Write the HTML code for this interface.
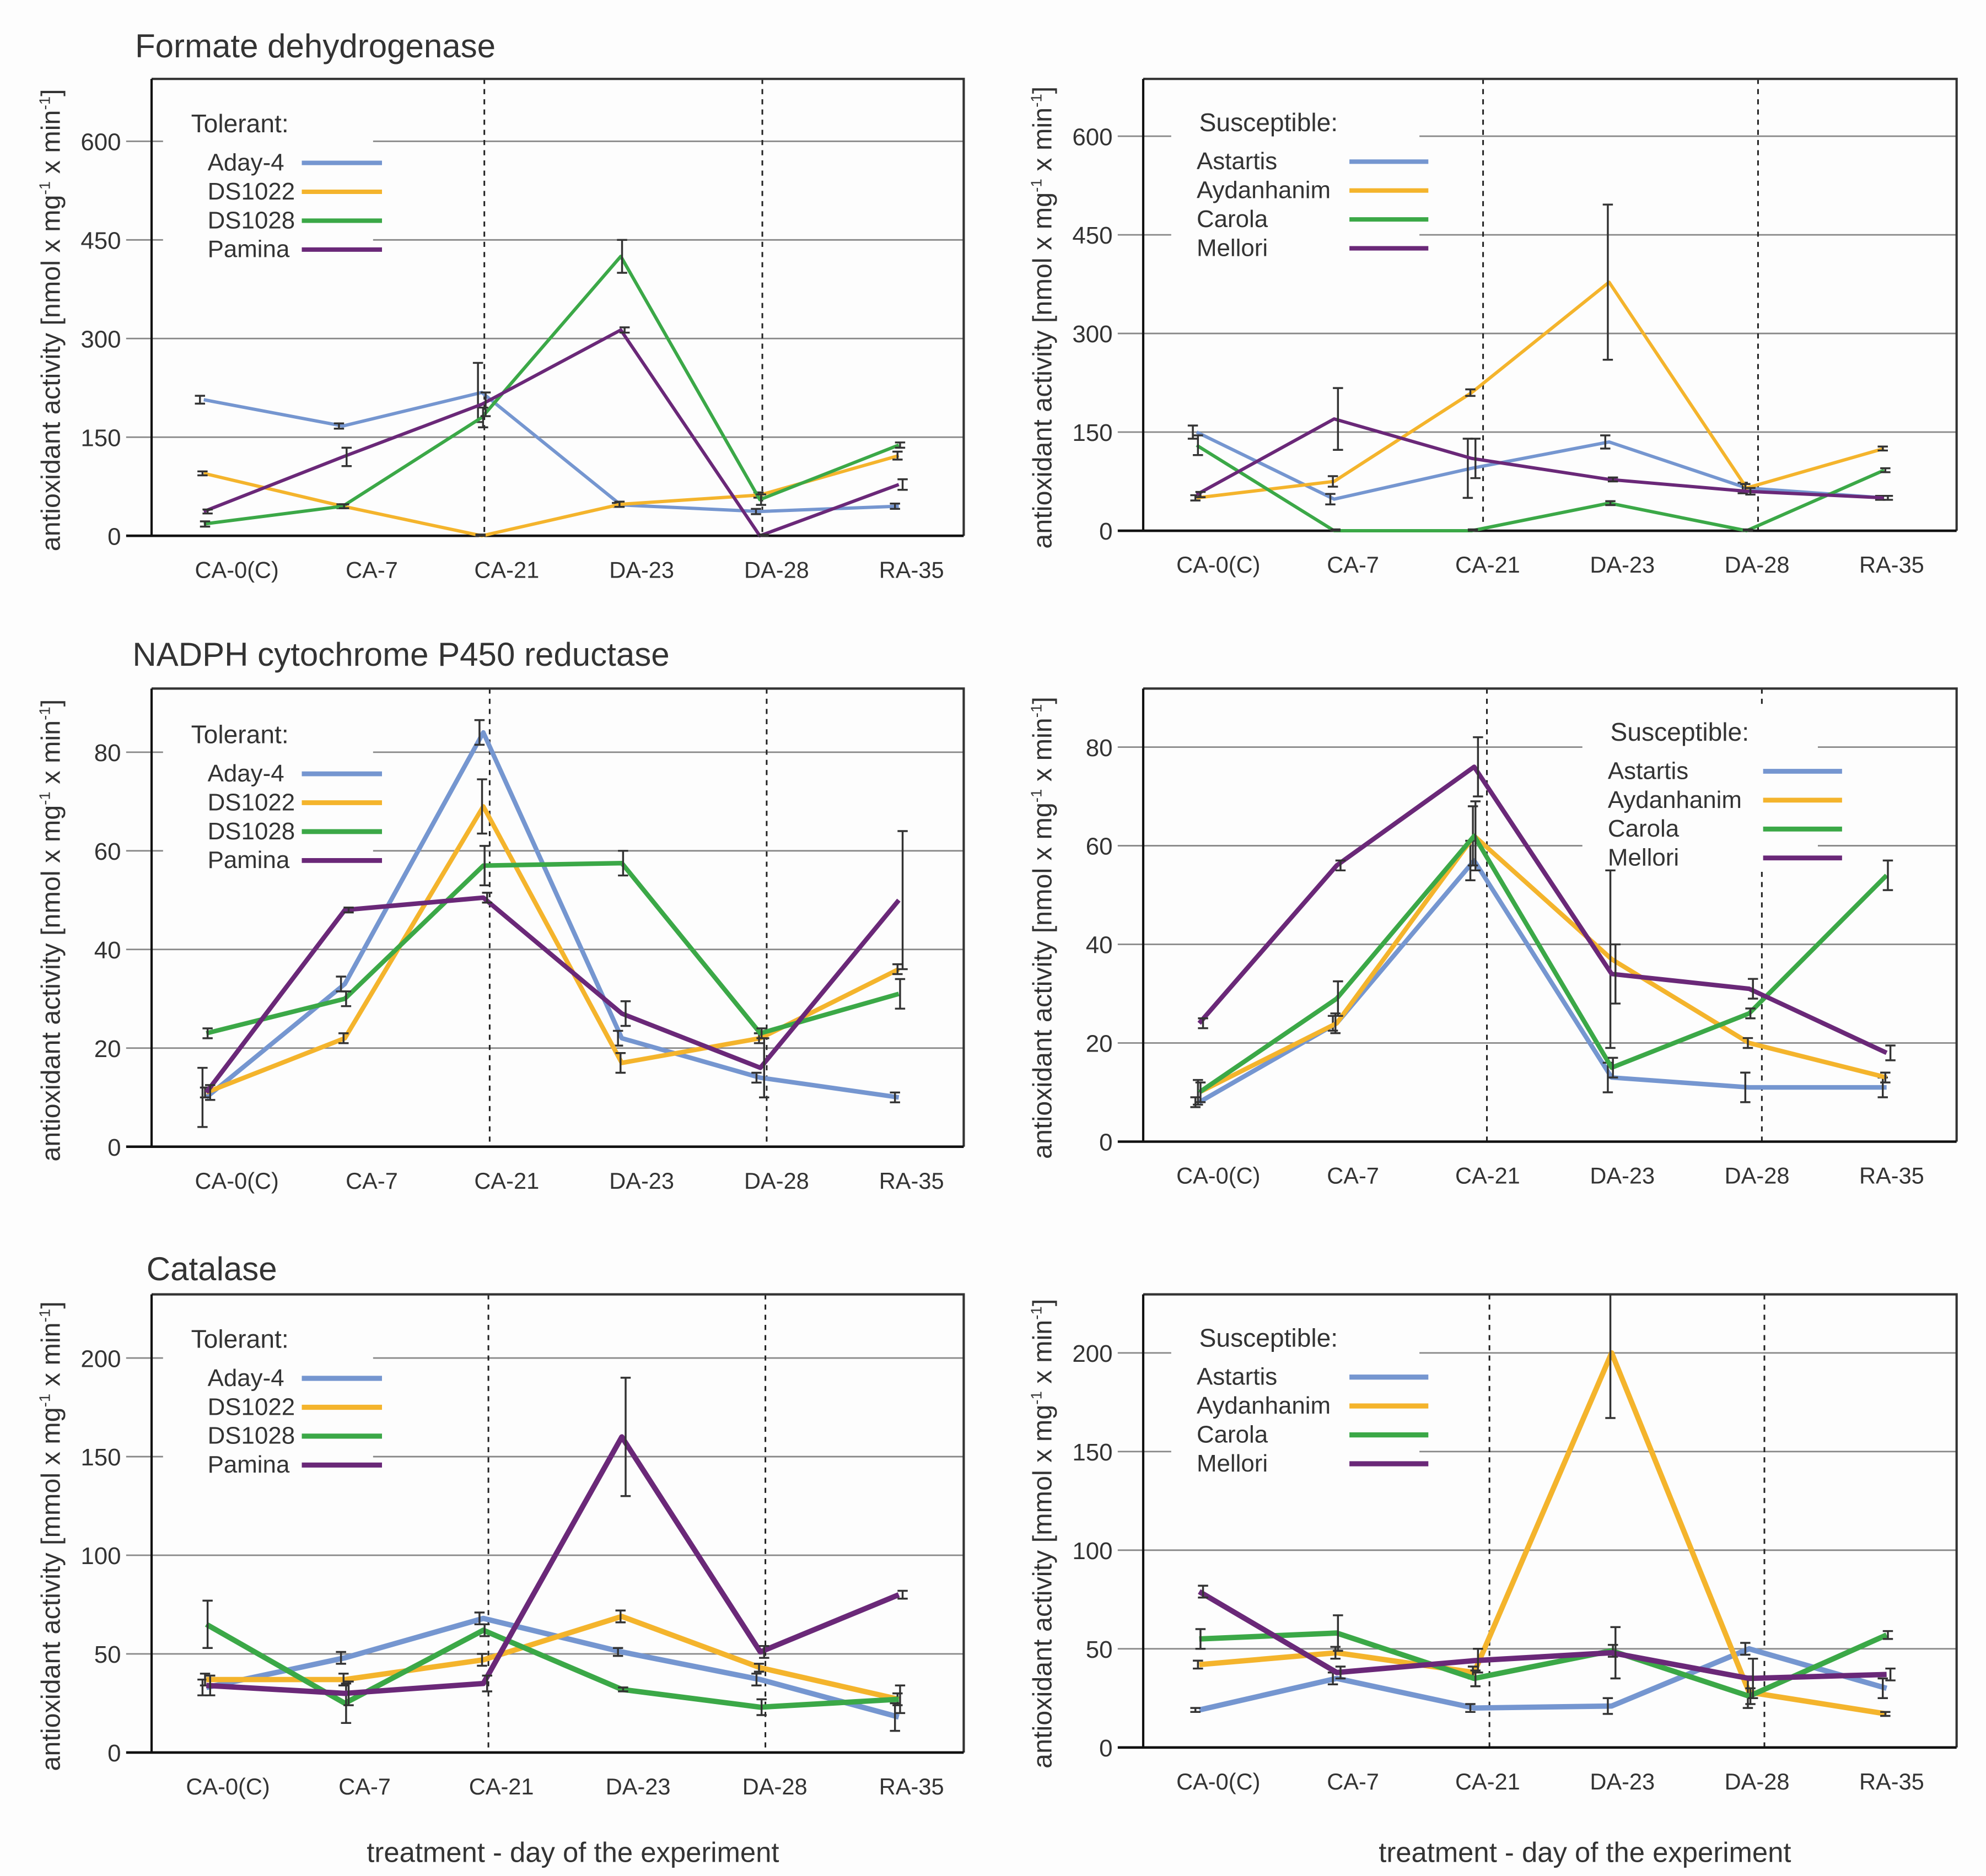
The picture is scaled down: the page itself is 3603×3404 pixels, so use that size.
<!DOCTYPE html>
<html><head><meta charset="utf-8">
<style>
html,body{margin:0;padding:0;background:#fdfdfd;}
svg{display:block;}
text{font-family:"Liberation Sans",sans-serif;fill:#333;}
</style></head>
<body>
<svg id="chart" width="3603" height="3404" viewBox="0 0 1560 1474" xmlns="http://www.w3.org/2000/svg">
<rect x="0" y="0" width="1560" height="1474" fill="#fdfdfd"/>
</svg>
<script>
const categories = ["CA-0(C)","CA-7","CA-21","DA-23","DA-28","RA-35"];
const tolerantNames = ["Aday-4","DS1022","DS1028","Pamina"];
const susceptibleNames = ["Astartis","Aydanhanim","Carola","Mellori"];

const fdhTicks = [0,150,300,450,600];
const fdhTol = [[207,167,218,47,37,45],[95,45,0,48,62,122],[18,45,180,425,55,138],[37,120,200,313,0,78]];
const fdhTolErr = [[6,4,45,3,4,4],[3,3,2,4,4,6],[4,3,15,25,8,4],[3,14,18,4,2,8]];
const fdhSus = [[150,48,95,135,65,50],[50,75,210,378,65,125],[130,0,0,42,0,92],[55,170,110,78,60,50]];
const fdhSusErr = [[10,8,45,10,8,3],[4,8,5,118,6,3],[15,2,2,3,2,3],[4,47,30,3,5,3]];

const nadTicks = [0,20,40,60,80];
const nadTol = [[10,33,84,22,14,10],[11,22,69,17,22,36],[23,30,57,57.5,23,31],[11,48,50.5,27,16,50]];
const nadTolErr = [[6,1.5,2.5,1.5,1,1],[1,1,5.5,2,1,1],[1,1.5,4,2.5,1,3],[1.5,0.5,1,2.5,6,14]];
const nadSus = [[8,24,57,13,11,11],[10,24,62,37,20,13],[10,29,62,15,26,54],[24,56,76,34,31,18]];
const nadSusErr = [[1,1.5,4,3,3,2],[2.5,2,6,18,1,1],[2,3.5,7,2,1,3],[1,1,6,6,2,1.5]];

const catTicks = [0,50,100,150,200];
const catTol = [[33,48,68,51,37,18],[37,37,47,69,43,27],[65,25,62,32,23,27],[34,30,35,160,51,80]];
const catTolErr = [[4,3,3,2,3,7],[3,3,3,3,2,3],[12,10,3,1,4,7],[5,6,4,30,3,2]];
const catSus = [[19,35,20,21,50,30],[42,48,38,200,28,17],[55,58,35,49,26,57],[79,38,44,48,35,37]];
const catSusErr = [[1,3,2,4,3,5],[2,3,3,33,8,1],[5,9,4,3,4,2],[3,3,6,13,10,3]];

const colors = ["#7596d0","#f4b42c","#3ba847","#6a2878"];
const NS="http://www.w3.org/2000/svg";
const svg=document.getElementById('chart');
function el(tag,attrs,parent){const e=document.createElementNS(NS,tag);for(const k in attrs)e.setAttribute(k,attrs[k]);(parent||svg).appendChild(e);return e;}

function panel(cfg){
  const g=el('g',{});
  
  
  const L=cfg.left,R=cfg.right,T=cfg.top,Z=cfg.zero,unit=cfg.unitPx,step=cfg.ticks[1]-cfg.ticks[0];
  const yS=v=>Z-v/step*unit;
  const xS=i=>cfg.xs[0]+(cfg.xs[1]-cfg.xs[0])*i/5;
  cfg.ticks.forEach((t,i)=>{
    const y=yS(t);
    if(i>0){
      const gl=el('line',{x1:L-20,x2:R,y1:y,y2:y,stroke:'#888','stroke-width':1.2},g);
      
      
    }
    const tl=el('text',{x:L-24,y:y+7,'text-anchor':'end','font-size':19},g);
    tl.textContent=t;
    
    
  });
  [2,4].forEach(i=>{
    const dl=el('line',{x1:xS(i)+cfg.dashOff,x2:xS(i)+cfg.dashOff,y1:T,y2:Z,stroke:'#222','stroke-width':1.3,'stroke-dasharray':'4,4'},g);
    
    
  });
  el('rect',{x:cfg.leg.x-22,y:cfg.leg.y-20,width:cfg.leg.w,height:130,fill:'#fdfdfd'},g);
  el('polyline',{points:`${L},${T} ${R},${T} ${R},${Z}`,fill:'none',stroke:'#333','stroke-width':1.8},g);
  el('line',{x1:L,x2:L,y1:T,y2:Z,stroke:'#111','stroke-width':1.8},g);
  el('line',{x1:L-20,x2:R,y1:Z,y2:Z,stroke:'#111','stroke-width':2},g);
  categories.forEach((c,i)=>{
    const t=el('text',{x:cfg.labX[0]+(cfg.labX[1]-cfg.labX[0])*i/5,y:Z+33,'text-anchor':'middle','font-size':18},g);
    t.textContent=c;
    
    
  });
  const yt=el('text',{x:0,y:0,'text-anchor':'middle','font-size':21,transform:`translate(${L-72},${(T+Z)/2+10}) rotate(-90)`},g);
  yt.innerHTML=`antioxidant activity [${cfg.unit} x mg<tspan dy="-8" font-size="12">-1</tspan><tspan dy="8"> x min</tspan><tspan dy="-8" font-size="12">-1</tspan><tspan dy="8">]</tspan>`;
  
  
  cfg.data.forEach((vals,s)=>{
    const pts=vals.map((v,i)=>`${xS(i)},${yS(v)}`).join(' ');
    const pl=el('polyline',{points:pts,fill:'none',stroke:colors[s],'stroke-width':cfg.lw,'stroke-linejoin':'round'},g);
    
    
    vals.forEach((v,i)=>{
      const e=cfg.err[s][i],x=xS(i)+ (s-1.5)*2;
      const y1=Math.max(yS(v+e),T),y2=Math.min(yS(v-e),Z);
      const eb=el('path',{d:`M${x},${y1}V${y2}M${x-4},${y2}H${x+4}`+(yS(v+e)>=T?`M${x-4},${y1}H${x+4}`:''),stroke:'#333','stroke-width':1.5,fill:'none'},g);
      
      
    });
  });
  const lt=el('text',{x:cfg.leg.x,y:cfg.leg.y+7,'font-size':20},g);
  lt.textContent=cfg.legTitle;
  
  
  cfg.names.forEach((n,s)=>{
    const y=cfg.leg.y+31+s*22.7;
    const t=el('text',{x:cfg.leg.x+cfg.leg.tx,y:y+6,'font-size':19},g);
    t.textContent=n;
    
    
    const l=el('line',{x1:cfg.leg.l1,x2:cfg.leg.l2,y1:y,y2:y,stroke:colors[s],'stroke-width':cfg.legLw},g);
    
    
  });
}

const tolLeg=(y)=>({x:150,y:y,w:165,tx:13,l1:237,l2:300});
const susLeg=(y)=>({x:942,y:y,w:195,tx:-2,l1:1060,l2:1122});

panel({name:'fdh-tolerant',left:119,right:757,top:62,zero:421,unitPx:77.5,ticks:fdhTicks,xs:[160,706],dashOff:2,labX:[186,716],data:fdhTol,err:fdhTolErr,names:tolerantNames,lw:2.6,legLw:3.5,legTitle:'Tolerant:',leg:tolLeg(97),unit:'nmol'});
panel({name:'fdh-susceptible',left:898,right:1537,top:62,zero:417,unitPx:77.5,ticks:fdhTicks,xs:[940,1480],dashOff:9,labX:[957,1486],data:fdhSus,err:fdhSusErr,names:susceptibleNames,lw:2.6,legLw:3.5,legTitle:'Susceptible:',leg:susLeg(96),unit:'nmol'});
panel({name:'nadph-tolerant',left:119,right:757,top:541,zero:901,unitPx:77.5,ticks:nadTicks,xs:[162,706],dashOff:5,labX:[186,716],data:nadTol,err:nadTolErr,names:tolerantNames,lw:3.6,legLw:3.8,legTitle:'Tolerant:',leg:tolLeg(577),unit:'nmol'});
panel({name:'nadph-susceptible',left:898,right:1537,top:541,zero:897,unitPx:77.5,ticks:nadTicks,xs:[942,1482],dashOff:10,labX:[957,1486],data:nadSus,err:nadSusErr,names:susceptibleNames,lw:3.6,legLw:3.8,legTitle:'Susceptible:',leg:{x:1265,y:575,w:185,tx:-2,l1:1385,l2:1447},unit:'nmol'});
panel({name:'catalase-tolerant',left:119,right:757,top:1017,zero:1377,unitPx:77.5,ticks:catTicks,xs:[162,706],dashOff:4,labX:[179,716],data:catTol,err:catTolErr,names:tolerantNames,lw:4.2,legLw:4,legTitle:'Tolerant:',leg:tolLeg(1052),unit:'mmol'});
panel({name:'catalase-susceptible',left:898,right:1537,top:1017,zero:1373,unitPx:77.5,ticks:catTicks,xs:[942,1482],dashOff:12,labX:[957,1486],data:catSus,err:catSusErr,names:susceptibleNames,lw:4.2,legLw:4,legTitle:'Susceptible:',leg:susLeg(1051),unit:'mmol'});

[[106,45,'Formate dehydrogenase'],[104,523,'NADPH cytochrome P450 reductase'],[115,1006,'Catalase']].forEach(a=>{
  const t=el('text',{x:a[0],y:a[1],'font-size':26,fill:'#222'});
  t.textContent=a[2];
  
  
});
[450,1245].forEach(x=>{
  const t=el('text',{x:x,y:1463,'text-anchor':'middle','font-size':22});
  t.textContent='treatment - day of the experiment';
  
  
});
</script>
</body></html>
